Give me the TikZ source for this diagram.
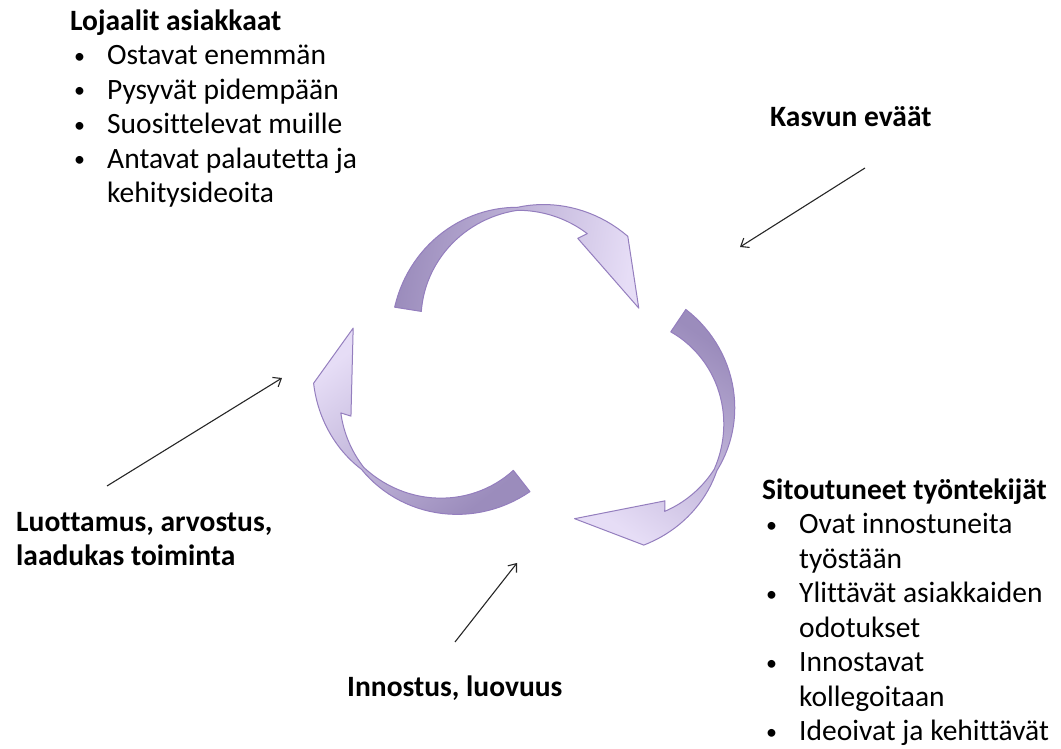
\documentclass[tikz,border=0pt]{standalone}
\usepackage{fontspec}
\setmainfont{Carlito}[Ligatures=NoCommon, RawFeature={-liga;-clig;-calt}]
\usetikzlibrary{arrows.meta}
\definecolor{cycDark}{RGB}{155,140,188}
\definecolor{cycLight}{RGB}{230,221,246}
\definecolor{cycLine}{RGB}{148,126,190}
\newcommand{\bl}{\hspace*{4pt}\makebox[33pt][l]{\raisebox{1.5pt}{\fontsize{22pt}{34.5pt}\selectfont\textbullet}}}
\newcommand{\bc}{\hspace*{37pt}}
% #1 options, #2,#3 centre, #4 radius, #5 base, #6 twist, #7 head, #8 tip angle
\newcommand{\cyclearrow}[8]{%
  \pgfmathsetmacro\hdOut{#7-8}%
  \pgfmathsetmacro\hdIn{#7+7}%
  \pgfmathsetmacro\hdWing{#7+10}%
  \path[#1] plot[domain=#5:#6, samples=30]
      ({#2+(#4+1.5+12*(\x-(#6))/((#5)-(#6)))*cos(\x)}, {#3+(#4+1.5+12*(\x-(#6))/((#5)-(#6)))*sin(\x)})
    -- plot[domain=#6:\hdOut, samples=20]
      ({#2+(#4+1.5+16*(\x-(#6))/(\hdOut-(#6)))*cos(\x)}, {#3+(#4+1.5+16*(\x-(#6))/(\hdOut-(#6)))*sin(\x)})
    -- ({#2+(#4-5)*cos(#8)}, {#3+(#4-5)*sin(#8)})
    -- ({#2+(#4-16)*cos(\hdWing)}, {#3+(#4-16)*sin(\hdWing)})
    -- plot[domain=\hdIn:#6, samples=20]
      ({#2+(#4-1.5-5.5*(\x-(#6))/(\hdIn-(#6)))*cos(\x)}, {#3+(#4-1.5-5.5*(\x-(#6))/(\hdIn-(#6)))*sin(\x)})
    -- plot[domain=#6:#5, samples=30]
      ({#2+(#4-1.5-12*(\x-(#6))/((#5)-(#6)))*cos(\x)}, {#3+(#4-1.5-12*(\x-(#6))/((#5)-(#6)))*sin(\x)})
    -- cycle;}

\begin{document}
\begin{tikzpicture}[x=1pt, y=1pt, font=\fontsize{29.5pt}{34.5pt}\selectfont,
  cyc/.style={draw=cycLine, line width=1pt, line join=round, top color=cycDark, bottom color=cycLight},
  lbl/.style={inner sep=0pt, align=left, anchor=base west},
  pointer/.style={-{Straight Barb[length=7pt, width=11pt]}, line width=1.1pt, black!85}]
  \useasboundingbox (0,0) rectangle (1061,749);

  \cyclearrow{cyc, shading angle=81}{526}{421}{119.5}{171}{94}{50}{10}
  \cyclearrow{cyc, shading angle=-34}{614}{333}{115}{56}{-28}{-69}{-111}
  \cyclearrow{cyc, shading angle=-142}{449}{361}{118}{-52}{-137}{-174}{-212}

  \node[lbl] (loyal) at (70,546) {\textbf{Lojaalit asiakkaat}\\\bl Ostavat enemmän\\
    \bl Pysyvät pidempään\\\bl Suosittelevat muille\\\bl Antavat palautetta ja\\
    \bc kehitysideoita};
  \node[lbl] (growth) at (770,622) {\textbf{Kasvun eväät}};
  \node[lbl] (trust) at (16,183) {\textbf{Luottamus, arvostus,}\\\textbf{laadukas toiminta}};
  \node[lbl] (spark) at (347,52) {\textbf{Innostus, luovuus}};
  \node[lbl] (staff) at (762,8) {\textbf{Sitoutuneet työntekijät}\\\bl Ovat innostuneita\\
    \bc työstään\\\bl Ylittävät asiakkaiden\\\bc odotukset\\\bl Innostavat\\
    \bc kollegoitaan\\\bl Ideoivat ja kehittävät};

  \coordinate (growthFrom) at (865,581);
  \coordinate (growthTo) at (740,502);
  \coordinate (trustFrom) at (107,263);
  \coordinate (trustTo) at (282,371);
  \coordinate (sparkFrom) at (455,107);
  \coordinate (sparkTo) at (517,186);
  \draw[pointer] (growthFrom) -- (growthTo);
  \draw[pointer] (trustFrom) -- (trustTo);
  \draw[pointer] (sparkFrom) -- (sparkTo);
\end{tikzpicture}
\end{document}
